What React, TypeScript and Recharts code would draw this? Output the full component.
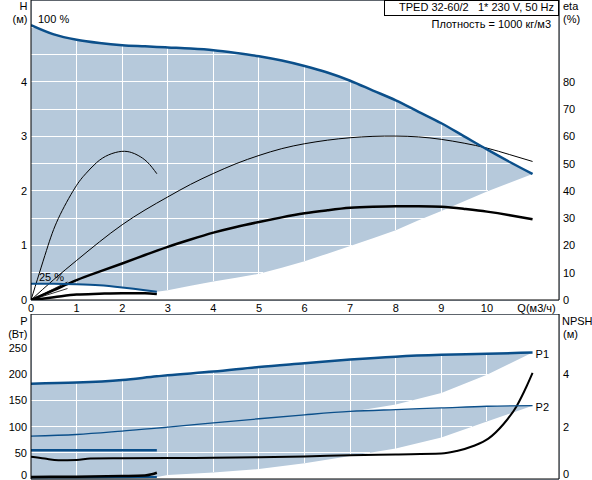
import React from 'react'
import {
  ComposedChart, Line, Area, XAxis, YAxis, CartesianGrid, ReferenceLine,
} from 'recharts'

const FONT = '"Liberation Sans", Arial, sans-serif'
const BLUE = '#0b4f8a'
const SHADE = '#b6c9db'
const GRID = '#bccbdb'

// flow axis, m3/h
const qTicks = [0, 1, 2, 3, 4, 5, 6, 7, 8, 9, 10, 11]
const qHalf = [0, 0.5, 1, 1.5, 2, 2.5, 3, 3.5, 4, 4.5, 5, 5.5, 6, 6.5, 7, 7.5, 8, 8.5, 9, 9.5, 10, 10.5, 11]

// head panel (H in m, eta in %)
const headTicks = [0, 0.5, 1, 1.5, 2, 2.5, 3, 3.5, 4, 4.5, 5]
const headLabels = [0, 1, 2, 3, 4]
const etaTicks = [0, 10, 20, 30, 40, 50, 60, 70, 80]
const bandQ = [0, 0.5, 1, 1.5, 2, 2.5, 2.76, 3, 3.5, 4, 4.5, 5, 5.5, 6, 6.5, 7, 7.5, 8, 8.5, 9, 9.5, 10, 10.5, 11]
const head100 = [5.04, 4.87, 4.77, 4.71, 4.67, 4.65, 4.64, 4.63, 4.61, 4.58, 4.53, 4.47, 4.39, 4.29, 4.17, 4.02, 3.84, 3.66, 3.45, 3.24, 3.0, 2.76, 2.53, 2.31]
const headLow = [0.3, 0.3, 0.29, 0.27, 0.23, 0.18, 0.15, 0.18, 0.26, 0.34, 0.41, 0.48, 0.59, 0.71, 0.85, 0.99, 1.13, 1.28, 1.46, 1.63, 1.81, 1.99, 2.15, 2.31]
const q25 = [0, 0.5, 1, 1.5, 2, 2.5, 2.76]
const head25 = [0.3, 0.3, 0.29, 0.27, 0.23, 0.18, 0.15]
const eta100 = [0, 7.5, 14.5, 21.3, 27.6, 33.0, 37.8, 42.4, 46.4, 50.0, 53, 55.5, 57.3, 58.6, 59.5, 60, 60.1, 59.8, 58.9, 57.5, 55.7, 53.3, 50.8]
const etaTotal100 = [0, 3.6, 7.3, 10.4, 13.4, 16.5, 19.5, 22.2, 24.7, 26.8, 28.6, 30.3, 31.8, 32.9, 33.8, 34.2, 34.4, 34.4, 34.2, 33.4, 32.4, 31.1, 29.6]
const eta25Q = [0, 0.34, 0.6, 0.96, 1.2, 1.44, 1.7, 1.99, 2.2, 2.35, 2.55, 2.76]
const eta25 = [0, 18.2, 29.9, 41.0, 46.3, 50.4, 53.2, 54.5, 54.1, 53.0, 50.6, 46.3]
const etaTotal25 = [0, 1, 2, 2.3, 2.5, 2.5, 2.2]
const fanQ = [0, 0.8]
const fanA = [0, 6.6]
const fanB = [0, 4.2]

// power panel (P in W, NPSH in m)
const powerTicks = [0, 50, 100, 150, 200, 250]
const npshTicks = [0, 2, 4]
const powerQ = [0, 1, 2, 2.76, 3, 4, 5, 6, 7, 8, 9, 10, 11]
const p1Max = [182, 184, 189, 196, 198, 205, 214, 221, 228, 233.5, 237, 239, 241.5]
const p1Min = [55, 55, 55, 55, 62, 78, 95, 112, 128, 142, 164, 199, 241.5]
const p2Max = [82, 85, 91.5, 97, 99, 107, 115, 122.5, 129, 132.6, 135.7, 138.9, 140]
const p2Min = [3, 3, 3.5, 4, 7.6, 12.5, 19, 30, 44, 58, 79, 110, 140]
const q25P = [0, 1, 2, 2.76]
const p1At25 = [55, 55, 55, 55]
const p2At25 = [3, 3, 3.5, 4]
const npshQ = [0, 0.3, 0.6, 1, 1.3, 2, 3, 4, 5, 6, 7, 8, 9, 9.34, 9.7, 10.03, 10.36, 10.65, 10.87, 11]
const npsh100 = [0.85, 0.78, 0.72, 0.73, 0.78, 0.79, 0.8, 0.81, 0.83, 0.86, 0.91, 0.94, 0.97, 1.07, 1.26, 1.54, 2.09, 2.78, 3.54, 4.05]
const npsh25Q = [0, 1, 2, 2.5, 2.65, 2.76]
const npsh25 = [0.08, 0.09, 0.11, 0.13, 0.18, 0.24]

// layout
const W = 592
const AXIS_L = 31
const AXIS_R = 33
const TOP_H = 314
const X_AXIS_H = 14
const BOT_H = 166
const Q_MAX = 11.58
const H_MAX = 5.5
const ETA_MAX = 110
const P_MAX = 315
const NPSH_MAX = 6.3
const margin = { top: 0, right: 0, bottom: 0, left: 0 }

const pts = (qs: number[], vs: number[]) => qs.map((q, i) => ({ q, v: vs[i] }))
const headBand = bandQ.map((q, i) => ({ q, band: [headLow[i], head100[i]] }))
const powerBand = powerQ.map((q, i) => ({
  q,
  band1: [p1Min[i], p1Max[i]],
  band2: [p2Min[i], p2Max[i]],
}))

// where a horizontal grid level runs inside a (linear) band: list of [qFrom, qTo]
type Span = [number, number]
function levelSpans(qs: number[], lo: number[], hi: number[], t: number): Span[] {
  const spans: Span[] = []
  for (let i = 0; i < qs.length - 1; i++) {
    let a = 0
    let b = 1
    const keep = (v0: number, v1: number, sign: number) => {
      const d0 = (v0 - t) * sign
      const d1 = (v1 - t) * sign
      if (d0 > 0 && d1 > 0) { a = 1; b = 0; return }
      if (d0 <= 0 && d1 <= 0) return
      const s = d0 / (d0 - d1)
      if (d0 > 0) a = Math.max(a, s)
      else b = Math.min(b, s)
    }
    keep(lo[i], lo[i + 1], 1)
    keep(hi[i], hi[i + 1], -1)
    if (a >= b) continue
    const qa = qs[i] + a * (qs[i + 1] - qs[i])
    const qb = qs[i] + b * (qs[i + 1] - qs[i])
    const last = spans[spans.length - 1]
    if (last && Math.abs(last[1] - qa) < 1e-9) last[1] = qb
    else spans.push([qa, qb])
  }
  return spans
}

// white grid lines over a shaded band, drawn as two-point line series
function bandGrid(yAxisId: string, qs: number[], lo: number[], hi: number[], levels: number[], key: string) {
  const segs: { q: number; v: number }[][] = []
  qTicks.forEach(q => {
    const i = qs.indexOf(q)
    if (i < 0 || q === 0) return
    segs.push([{ q, v: lo[i] }, { q, v: hi[i] }])
  })
  levels.filter(t => t > 0).forEach(t => {
    levelSpans(qs, lo, hi, t).forEach(([a, b]) => {
      segs.push([{ q: a, v: t }, { q: b, v: t }])
    })
  })
  return segs.map((d, j) => (
    <Line key={key + j} yAxisId={yAxisId} data={d} dataKey="v" type="linear"
      stroke="#fff" strokeWidth={1} dot={false} activeDot={false} isAnimationActive={false} />
  ))
}

const txt = { fontSize: 11, fontFamily: FONT, fill: '#000' }

const edgeLabel = (text: string, target: number, dx: number, dy: number) => (props: any) => {
  const { x, y, index } = props
  if (index !== target) return null
  return <text x={x + dx} y={y + dy} {...txt}>{text}</text>
}

function QTick({ x, y, payload }: any) {
  const last = payload.value === 11
  return (
    <text x={last ? x + 4 : x} y={y} dy="0.71em" textAnchor="middle" {...txt}>
      {last ? 'Q(м3/ч)' : payload.value}
    </text>
  )
}

const sideTick = (anchor: 'start' | 'end', lift0: number, shown?: number[]) => ({ x, y, payload }: any) => {
  const v = payload.value
  if (shown ? !shown.includes(v) : !Number.isInteger(v)) return <g />
  return (
    <text x={x} y={v === 0 ? y - lift0 : y} dy="0.355em" textAnchor={anchor} {...txt}>{v}</text>
  )
}

// axes shared by every layer of a panel so the plot areas line up
function topAxes(show: boolean) {
  return [
    <XAxis key="x" dataKey="q" type="number" domain={[0, Q_MAX]} ticks={qTicks} interval={0}
      height={X_AXIS_H} tickSize={0} tickMargin={4} allowDataOverflow
      axisLine={show ? { stroke: '#000' } : false} tick={show ? <QTick /> : false} />,
    <YAxis key="h" yAxisId="h" domain={[0, H_MAX]} ticks={headTicks} interval={0} width={AXIS_L}
      tickSize={0} tickMargin={4} allowDataOverflow
      axisLine={show ? { stroke: '#000' } : false} tick={show ? sideTick('end', 0, headLabels) : false} />,
    <YAxis key="eta" yAxisId="eta" orientation="right" domain={[0, ETA_MAX]} ticks={etaTicks} interval={0} width={AXIS_R}
      tickSize={0} tickMargin={4} allowDataOverflow
      axisLine={show ? { stroke: '#000' } : false} tick={show ? sideTick('start', 0) : false} />,
  ]
}

function bottomAxes(show: boolean) {
  return [
    <XAxis key="x" dataKey="q" type="number" domain={[0, Q_MAX]} ticks={qTicks} interval={0}
      height={1} tick={false} tickSize={0} allowDataOverflow axisLine={show ? { stroke: '#000' } : false} />,
    <YAxis key="p" yAxisId="p" domain={[0, P_MAX]} ticks={powerTicks} interval={0} width={AXIS_L}
      tickSize={0} tickMargin={4} allowDataOverflow
      axisLine={show ? { stroke: '#000' } : false} tick={show ? sideTick('end', 4) : false} />,
    <YAxis key="npsh" yAxisId="npsh" orientation="right" domain={[0, NPSH_MAX]} ticks={npshTicks} interval={0} width={AXIS_R}
      tickSize={0} tickMargin={4} allowDataOverflow
      axisLine={show ? { stroke: '#000' } : false} tick={show ? sideTick('start', 4.5) : false} />,
  ]
}

const layer = (top: number): React.CSSProperties => ({ position: 'absolute', left: 0, top })

export default function App() {
  return (
    <div style={{ position: 'absolute', left: 0, top: 0, width: W, height: 480, background: '#fff', overflow: 'hidden' }}>
      <style>{'.recharts-cartesian-grid line,.whitegrid path{shape-rendering:crispEdges}'}</style>

      {/* 1: light grid */}
      <div style={layer(0)}>
        <ComposedChart width={W} height={TOP_H} data={headBand} margin={margin}>
          <CartesianGrid stroke={GRID} yAxisId="h" />
          {topAxes(false)}
        </ComposedChart>
      </div>
      <div style={layer(TOP_H)}>
        <ComposedChart width={W} height={BOT_H} data={powerBand} margin={margin}>
          <CartesianGrid stroke={GRID} yAxisId="p" />
          {bottomAxes(false)}
        </ComposedChart>
      </div>

      {/* 2: shaded operating ranges */}
      <div style={layer(0)}>
        <ComposedChart width={W} height={TOP_H} data={headBand} margin={margin}>
          {topAxes(false)}
          <Area yAxisId="h" dataKey="band" type="linear" stroke="none" fill={SHADE} fillOpacity={1}
            isAnimationActive={false} activeDot={false} />
        </ComposedChart>
      </div>
      <div style={layer(TOP_H)}>
        <ComposedChart width={W} height={BOT_H} data={powerBand} margin={margin}>
          {bottomAxes(false)}
          <Area yAxisId="p" dataKey="band1" type="linear" stroke="none" fill={SHADE} fillOpacity={1}
            isAnimationActive={false} activeDot={false} />
          <Area yAxisId="p" dataKey="band2" type="linear" stroke="none" fill={SHADE} fillOpacity={1}
            isAnimationActive={false} activeDot={false} />
        </ComposedChart>
      </div>

      {/* 3: white grid inside the ranges */}
      <div className="whitegrid" style={layer(0)}>
        <ComposedChart width={W} height={TOP_H} data={headBand} margin={margin}>
          {topAxes(false)}
          {bandGrid('h', bandQ, headLow, head100, headTicks, 't')}
        </ComposedChart>
      </div>
      <div className="whitegrid" style={layer(TOP_H)}>
        <ComposedChart width={W} height={BOT_H} data={powerBand} margin={margin}>
          {bottomAxes(false)}
          {bandGrid('p', powerQ, p1Min, p1Max, powerTicks, 'a')}
          {bandGrid('p', powerQ, p2Min, p2Max, powerTicks, 'b')}
        </ComposedChart>
      </div>

      {/* 4: curves and axes */}
      <div style={layer(0)}>
        <ComposedChart width={W} height={TOP_H} data={headBand} margin={margin}>
          {topAxes(true)}
          <ReferenceLine yAxisId="h" y={H_MAX} stroke="#000" />
          <Line yAxisId="eta" data={pts(fanQ, fanA)} dataKey="v" type="linear" stroke="#000" strokeWidth={0.8} dot={false} isAnimationActive={false} />
          <Line yAxisId="eta" data={pts(fanQ, fanB)} dataKey="v" type="linear" stroke="#000" strokeWidth={0.8} dot={false} isAnimationActive={false} />
          <Line yAxisId="eta" data={pts(eta25Q, eta25)} dataKey="v" type="natural" stroke="#000" strokeWidth={1} dot={false} isAnimationActive={false} />
          <Line yAxisId="eta" data={pts(qHalf, eta100)} dataKey="v" type="natural" stroke="#000" strokeWidth={1} dot={false} isAnimationActive={false} />
          <Line yAxisId="eta" data={pts(qHalf, etaTotal100)} dataKey="v" type="natural" stroke="#000" strokeWidth={2.5} dot={false} isAnimationActive={false} />
          <Line yAxisId="eta" data={pts(q25, etaTotal25)} dataKey="v" type="monotone" stroke="#000" strokeWidth={2.5} dot={false} isAnimationActive={false} />
          <Line yAxisId="h" data={pts(q25, head25)} dataKey="v" type="monotone" stroke={BLUE} strokeWidth={2}
            dot={false} isAnimationActive={false} label={edgeLabel('25 %', 0, 8, -2.5)} />
          <Line yAxisId="h" data={pts(bandQ, head100)} dataKey="v" type="monotone" stroke={BLUE} strokeWidth={2.5}
            dot={false} isAnimationActive={false} label={edgeLabel('100 %', 0, 7, -2.5)} />
        </ComposedChart>
      </div>

      <div style={layer(TOP_H)}>
        <ComposedChart width={W} height={BOT_H} data={powerBand} margin={margin}>
          {bottomAxes(true)}
          <ReferenceLine yAxisId="p" y={P_MAX} stroke="#000" />
          <Line yAxisId="p" data={pts(q25P, p2At25)} dataKey="v" type="monotone" stroke={BLUE} strokeWidth={2} dot={false} isAnimationActive={false} />
          <Line yAxisId="p" data={pts(q25P, p1At25)} dataKey="v" type="monotone" stroke={BLUE} strokeWidth={2.5} dot={false} isAnimationActive={false} />
          <Line yAxisId="npsh" data={pts(npsh25Q, npsh25)} dataKey="v" type="monotone" stroke="#000" strokeWidth={2.5} dot={false} isAnimationActive={false} />
          <Line yAxisId="npsh" data={pts(npshQ, npsh100)} dataKey="v" type="monotone" stroke="#000" strokeWidth={2} dot={false} isAnimationActive={false} />
          <Line yAxisId="p" data={pts(powerQ, p2Max)} dataKey="v" type="monotone" stroke={BLUE} strokeWidth={1.3}
            dot={false} isAnimationActive={false} label={edgeLabel('P2', powerQ.length - 1, 3, 5)} />
          <Line yAxisId="p" data={pts(powerQ, p1Max)} dataKey="v" type="monotone" stroke={BLUE} strokeWidth={2.5}
            dot={false} isAnimationActive={false} label={edgeLabel('P1', powerQ.length - 1, 3, 5)} />
        </ComposedChart>
      </div>

      <svg width={W} height={480} style={{ position: 'absolute', left: 0, top: 0, pointerEvents: 'none' }}>
        <rect x={384.5} y={0.5} width={174} height={15} fill="#fff" stroke="#000" />
        <text x={399} y={11} {...txt}>TPED 32-60/2</text>
        <text x={478} y={11} {...txt}>1* 230 V, 50 Hz</text>
        <rect x={436} y={18} width={117} height={13} fill="#fff" />
        <text x={551} y={28} textAnchor="end" {...txt}>Плотность = 1000 кг/м3</text>
        <text x={27.5} y={10} textAnchor="end" {...txt}>H</text>
        <text x={27.5} y={23} textAnchor="end" {...txt}>(м)</text>
        <text x={563} y={10} {...txt}>eta</text>
        <text x={563} y={23} {...txt}>(%)</text>
        <text x={27.5} y={325} textAnchor="end" {...txt}>P</text>
        <text x={27.5} y={338} textAnchor="end" {...txt}>(Вт)</text>
        <text x={562} y={325} {...txt}>NPSH</text>
        <text x={563} y={338} {...txt}>(м)</text>
      </svg>
    </div>
  )
}
